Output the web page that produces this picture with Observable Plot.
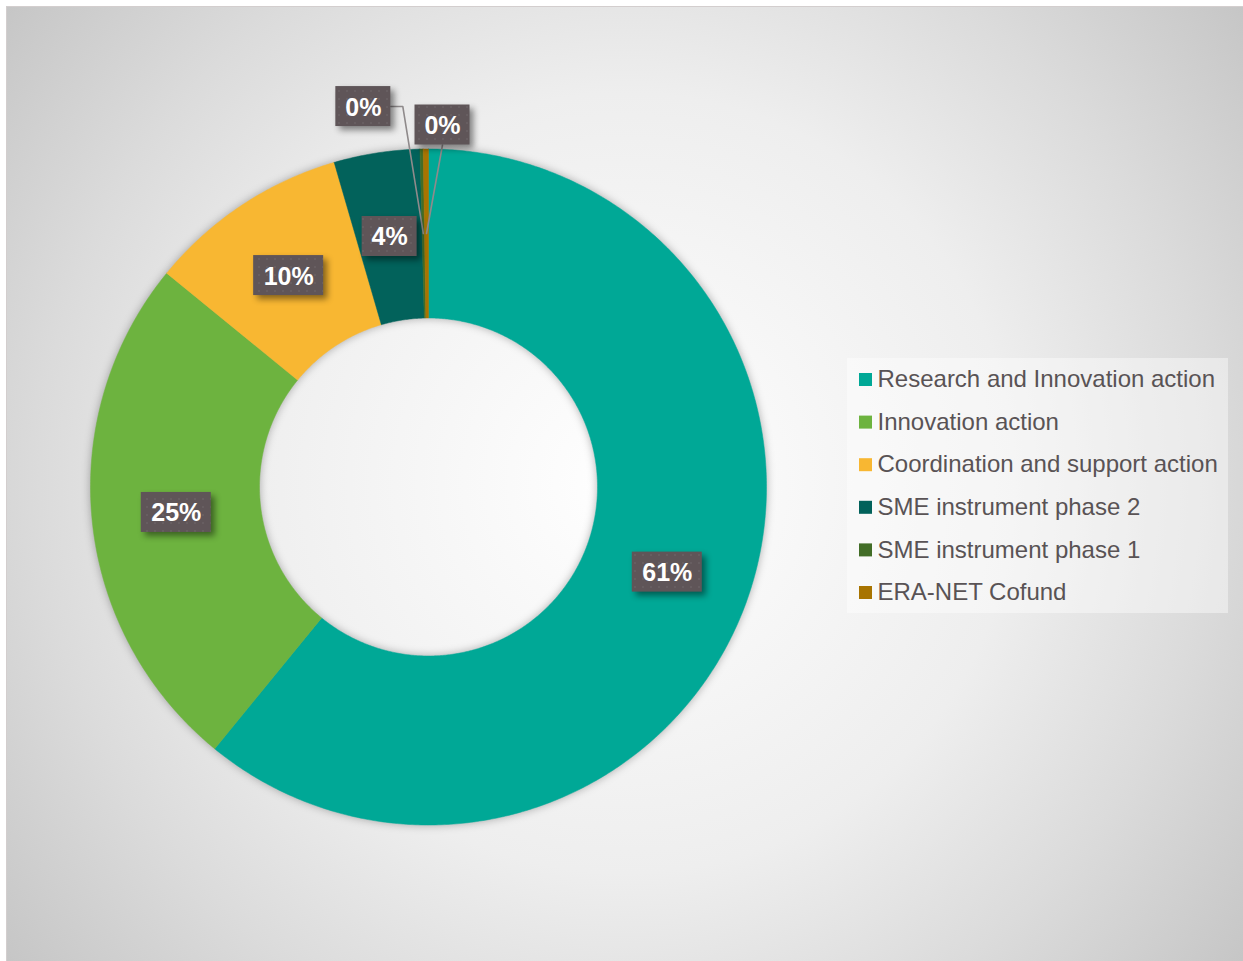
<!DOCTYPE html>
<html>
<head>
<meta charset="utf-8">
<script src="https://cdn.jsdelivr.net/npm/d3@7"></script>
<script src="https://cdn.jsdelivr.net/npm/@observablehq/plot@0.6"></script>
<style>
  html, body { margin: 0; padding: 0; background: #ffffff; overflow: hidden; }
  #chart {
    position: absolute; left: 6px; top: 6px;
    width: 1237px; height: 954px;
    border-top: 1px solid #d3cece; border-left: 1px solid #d3cece;
    background: radial-gradient(circle 780px at 618px 476px, #ffffff 0%, #eeeeee 50%, #dbdbdb 75%, #c6c6c6 100%);
    font-family: "Liberation Sans", Arial, sans-serif;
  }
  #chart svg { display: block; }
</style>
</head>
<body>
<div id="chart"></div>
<script>
// ---- data ----
const categories = [
  "Research and Innovation action",
  "Innovation action",
  "Coordination and support action",
  "SME instrument phase 2",
  "SME instrument phase 1",
  "ERA-NET Cofund"
];
const shares = [60.9, 25.0, 9.6, 4.1, 0.15, 0.25];
const colors = ["#00a896", "#6db33f", "#f8b732", "#02625b", "#426d27", "#a87400"];

// ---- layout ----
const W = 1237, H = 954;
const cx = 421, cy = 479.5, R = 338, R0 = 169;
const labelRadius = (R + R0) / 2;
// label offsets (pixels) for slices whose labels are pulled out with leader lines
const pulledLabels = {
  "SME instrument phase 1": {dx: -60, dy: -127, leader: "side"},
  "ERA-NET Cofund": {dx: 16, dy: -108.5, leader: "bottom"}
};
const boxH = 40;

const total = d3.sum(shares);
let acc = 0;
const slices = categories.map((name, i) => {
  const a0 = acc / total * 2 * Math.PI;
  acc += shares[i];
  const a1 = acc / total * 2 * Math.PI;
  return {name, value: shares[i], a0, a1, label: Math.round(shares[i] / total * 100) + "%"};
});

const px = (a, r) => cx + r * Math.sin(a);
const py = (a, r) => cy - r * Math.cos(a);

// polygon points for each slice
const slicePts = [];
for (const s of slices) {
  const n = Math.max(2, Math.ceil((s.a1 - s.a0) / (Math.PI / 360)));
  const pts = [];
  for (let k = 0; k <= n; k++) { const a = s.a0 + (s.a1 - s.a0) * k / n; pts.push({x: px(a, R), y: py(a, R)}); }
  for (let k = n; k >= 0; k--) { const a = s.a0 + (s.a1 - s.a0) * k / n; pts.push({x: px(a, R0), y: py(a, R0)}); }
  pts.push(pts[0]);
  for (const p of pts) slicePts.push({name: s.name, x: p.x, y: p.y});
}

// labels
const labelData = slices.map(s => {
  const am = (s.a0 + s.a1) / 2;
  const ax = px(am, labelRadius), ay = py(am, labelRadius);
  const off = pulledLabels[s.name];
  const x = off ? ax + off.dx : ax;
  const y = off ? ay + off.dy : ay;
  const w = 25 + 15 * s.label.length;
  return {name: s.name, label: s.label, ax, ay, x, y, w, off};
});

const leaderPts = [];
for (const l of labelData) {
  if (!l.off) continue;
  if (l.off.leader === "side") {
    leaderPts.push({name: l.name, x: l.ax, y: l.ay});
    leaderPts.push({name: l.name, x: l.x + l.w / 2 + 12, y: l.y});
    leaderPts.push({name: l.name, x: l.x + l.w / 2, y: l.y});
  } else {
    leaderPts.push({name: l.name, x: l.ax, y: l.ay});
    leaderPts.push({name: l.name, x: l.x, y: l.y + boxH / 2});
  }
}

// legend layout
const legendBox = {x1: 840, x2: 1221, y1: 351, y2: 606};
const legendItems = categories.map((name, i) => ({name, y: 372.5 + i * 42.6}));

const chart = Plot.plot({
  width: W,
  height: H,
  margin: 0,
  x: {type: "linear", domain: [0, W], range: [0, W], axis: null},
  y: {type: "linear", domain: [0, H], range: [0, H], axis: null},
  color: {domain: categories, range: colors},
  style: {background: "transparent", overflow: "visible", fontFamily: "'Liberation Sans', Arial, sans-serif"},
  marks: [
    // 0: slices
    Plot.line(slicePts, {x: "x", y: "y", z: "name", fill: "name", stroke: "name", strokeWidth: 0.5, curve: "linear"}),
    // 1: leader lines
    Plot.line(leaderPts, {x: "x", y: "y", z: "name", stroke: "#8f8a8b", strokeWidth: 1.6}),
    // 2: label boxes
    Plot.rect(labelData, {x1: d => d.x - d.w / 2, x2: d => d.x + d.w / 2, y1: d => d.y - boxH / 2, y2: d => d.y + boxH / 2, fill: "#5f5558"}),
    // 3: label text
    Plot.text(labelData, {x: "x", y: d => d.y + 1, text: "label", fill: "white", fontSize: 25, fontWeight: "bold"}),
    // 4: legend background
    Plot.rect([legendBox], {x1: "x1", x2: "x2", y1: "y1", y2: "y2", fill: "white", fillOpacity: 0.42}),
    // 5: legend swatches
    Plot.rect(legendItems, {x1: 852, x2: 865, y1: d => d.y - 6.5, y2: d => d.y + 6.5, fill: "name"}),
    // 6: legend text
    Plot.text(legendItems, {x: 870, y: d => d.y - 0.5, text: "name", textAnchor: "start", fill: "#595355", fontSize: 24})
  ]
});

document.getElementById("chart").appendChild(chart);

// subtle dotted texture for label boxes
const ns = "http://www.w3.org/2000/svg";
const defs = document.createElementNS(ns, "defs");
defs.innerHTML = `<pattern id="lblpat" width="8" height="8" patternUnits="userSpaceOnUse">
  <rect width="8" height="8" fill="#5f5558"></rect>
  <rect x="3" y="3" width="2" height="2" fill="#675e61"></rect>
</pattern>`;
chart.insertBefore(defs, chart.firstChild);

// shadows and texture
const groups = Array.from(chart.children).filter(el => el.tagName.toLowerCase() === "g");
if (groups[0]) groups[0].style.filter = "drop-shadow(0px 0px 4px rgba(0,0,0,0.30))";
if (groups[2]) {
  groups[2].style.filter = "drop-shadow(4px 4px 3px rgba(0,0,0,0.45))";
  groups[2].setAttribute("fill", "url(#lblpat)");
  groups[2].querySelectorAll("rect").forEach(r => r.setAttribute("fill", "url(#lblpat)"));
}
</script>
</body>
</html>
